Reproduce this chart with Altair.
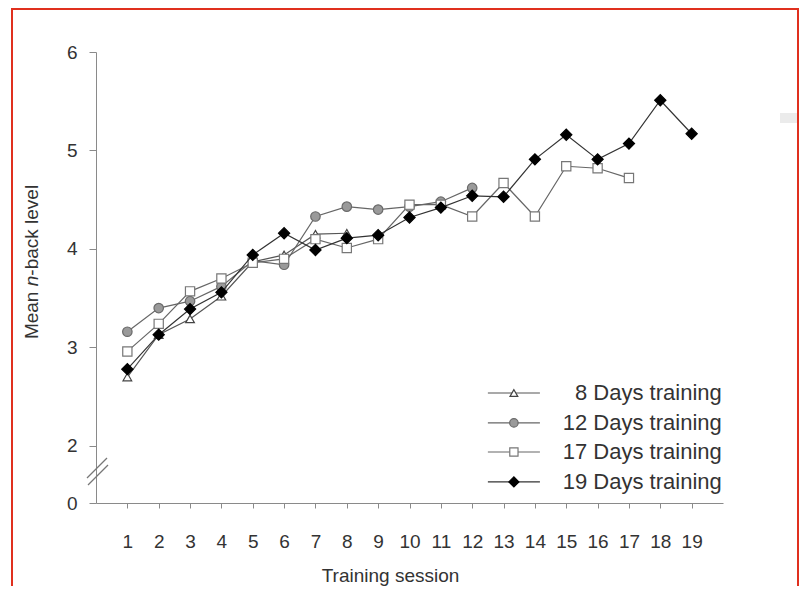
import altair as alt
import pandas as pd

# ---------------- data ----------------
sessions = list(range(1, 20))
d8 = [2.70, 3.13, 3.29, 3.52, 3.87, 3.94, 4.15, 4.16]
d12 = [3.16, 3.40, 3.47, 3.62, 3.88, 3.84, 4.33, 4.43, 4.40, 4.43, 4.48, 4.62]
d17 = [2.96, 3.24, 3.57, 3.70, 3.86, 3.90, 4.10, 4.01, 4.10, 4.45, 4.45, 4.33,
       4.67, 4.33, 4.84, 4.82, 4.72]
d19 = [2.78, 3.13, 3.39, 3.56, 3.94, 4.16, 3.99, 4.11, 4.14, 4.32, 4.42, 4.54,
       4.53, 4.91, 5.16, 4.91, 5.07, 5.51, 5.17]
series_names = ["8 Days training", "12 Days training", "17 Days training", "19 Days training"]
series_values = [d8, d12, d17, d19]
x_ticks = list(range(1, 20))
y_ticks = [1.421, 2, 3, 4, 5, 6]   # lowest tick is drawn as "0" (broken axis)

# y-axis title pieces (the "n" is italic)
ytitle_parts = ["Mean ", "n", "-back level"]
ytitle_styles = ["normal", "italic", "normal"]

# legend rows (positions in data units inside the plot)
legend_y = [2.538, 2.234, 1.939, 1.635]
legend_x_line = [12.5, 14.16]
legend_x_marker = 13.33
legend_x_text = 19.96

# styles per series
styles = [
    dict(shape="triangle-up", fill="white", stroke="#444444", size=75),
    dict(shape="circle", fill="#9a9a9a", stroke="#6a6a6a", size=90),
    dict(shape="square", fill="white", stroke="#777777", size=85),
    dict(shape="diamond", fill="black", stroke="black", size=125),
]
line_colors = ["#555555", "#666666", "#666666", "#333333"]

xscale = alt.Scale(domain=[0, 20], nice=False, zero=False)
yscale = alt.Scale(domain=[1.421, 6], nice=False, zero=False)

font = "Liberation Sans"
TXT = "#333333"

x_axis = alt.Axis(values=x_ticks, title="Training session", grid=False,
                  domainColor="#8a8a8a", tickColor="#8a8a8a", tickSize=5,
                  labelFontSize=19, labelColor=TXT, labelFont=font,
                  labelPadding=24, labelFlush=False, labelOverlap=False,
                  titleFontSize=19, titleColor=TXT, titleFont=font,
                  titleFontWeight="normal", titleX=294, titleY=72,
                  titleBaseline="middle", titleAnchor="middle")
y_axis = alt.Axis(values=y_ticks, title=None, grid=False,
                  labelExpr="datum.value < 1.9 ? '0' : format(datum.value, 'd')",
                  domainColor="#8a8a8a", tickColor="#8a8a8a", tickSize=7,
                  labelFontSize=19, labelColor=TXT, labelFont=font,
                  labelPadding=12, labelFlush=False, labelOverlap=False)


def X(f):
    return alt.X(f, scale=xscale, axis=x_axis)


def Y(f):
    return alt.Y(f, scale=yscale, axis=y_axis)


layers = []
for i, (name, vals) in enumerate(zip(series_names, series_values)):
    df = pd.DataFrame({"session": sessions[:len(vals)], "value": vals, "series": name})
    st = styles[i]
    base = alt.Chart(df).encode(x=X("session:Q"), y=Y("value:Q"))
    layers.append(base.mark_line(color=line_colors[i], strokeWidth=1.2))
    layers.append(base.mark_point(shape=st["shape"], fill=st["fill"], stroke=st["stroke"],
                                  size=st["size"], strokeWidth=1.2, opacity=1, filled=False,
                                  fillOpacity=1))

# legend built from the same styles
for i, name in enumerate(series_names):
    st = styles[i]
    ldf = pd.DataFrame({"session": legend_x_line, "value": [legend_y[i]] * 2})
    layers.append(alt.Chart(ldf).mark_line(color=line_colors[i], strokeWidth=1.2).encode(
        x=X("session:Q"), y=Y("value:Q")))
    pdf = pd.DataFrame({"session": [legend_x_marker], "value": [legend_y[i]]})
    layers.append(alt.Chart(pdf).mark_point(shape=st["shape"], fill=st["fill"], stroke=st["stroke"],
                                            size=st["size"] * 0.8, strokeWidth=1.2, opacity=1,
                                            filled=False, fillOpacity=1).encode(
        x=X("session:Q"), y=Y("value:Q")))
    tdf = pd.DataFrame({"session": [legend_x_text], "value": [legend_y[i]], "t": [name]})
    layers.append(alt.Chart(tdf).mark_text(align="right", baseline="middle", fontSize=22,
                                           font=font, color=TXT).encode(
        x=X("session:Q"), y=Y("value:Q"), text="t:N"))

# y-axis title as three rotated pieces (bottom-to-top)
ytitle_pos = [287.1, 234.3, 223.7]
for part, style, ypos in zip(ytitle_parts, ytitle_styles, ytitle_pos):
    layers.append(alt.Chart(pd.DataFrame({"t": [part]})).mark_text(
        angle=270, align="left", baseline="middle", fontSize=19, font=font,
        fontStyle=style, color=TXT).encode(
        x=alt.value(-64), y=alt.value(ypos), text="t:N"))

# axis break marks (decoration)
brk1 = alt.Chart().mark_rule(color="#777777", strokeWidth=1.2).encode(
    x=alt.value(-9), x2=alt.value(11), y=alt.value(426), y2=alt.value(406))
brk2 = alt.Chart().mark_rule(color="#777777", strokeWidth=1.2).encode(
    x=alt.value(-8), x2=alt.value(12), y=alt.value(433), y2=alt.value(413))
# red frame and grey smudge seen in the reference picture
frame_top = alt.Chart().mark_rule(color="#e0301e", strokeWidth=2).encode(
    x=alt.value(-84), x2=alt.value(702), y=alt.value(-43))
frame_left = alt.Chart().mark_rule(color="#e0301e", strokeWidth=2).encode(
    x=alt.value(-84), y=alt.value(-44), y2=alt.value(534))
frame_right = alt.Chart().mark_rule(color="#e0301e", strokeWidth=2).encode(
    x=alt.value(702), y=alt.value(-44), y2=alt.value(534))
smudge = alt.Chart().mark_rect(color="#ebebeb").encode(
    x=alt.value(684), x2=alt.value(712), y=alt.value(61), y2=alt.value(71))

chart = alt.layer(smudge, *layers, brk1, brk2, frame_top, frame_left, frame_right).properties(
    width=627, height=451,
    autosize=alt.AutoSizeParams(type="none"),
    padding={"left": 88, "top": 44, "right": 76, "bottom": 83},
    background="white",
).configure_view(stroke=None).configure_axis(labelOverlap=False)

chart.save("out.html", embed_options={"renderer": "svg", "actions": False})
